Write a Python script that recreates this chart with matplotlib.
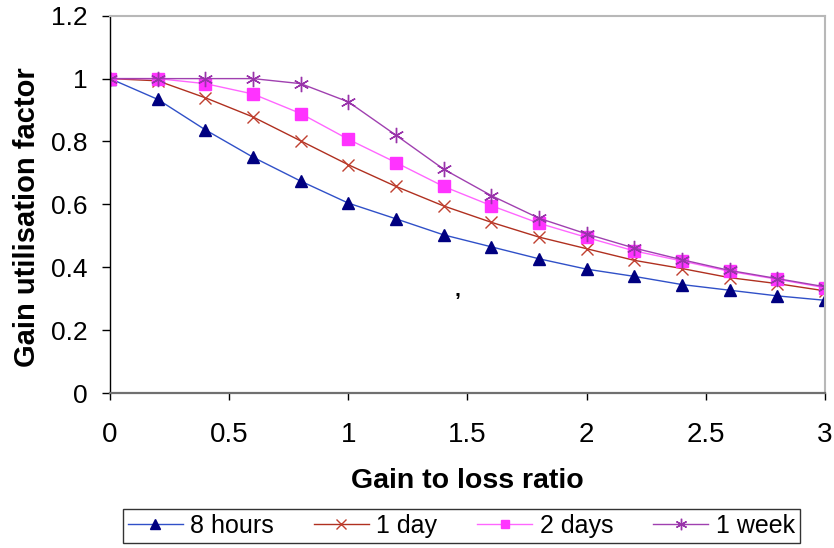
import matplotlib
matplotlib.use("Agg")
import matplotlib.pyplot as plt

plt.rcParams['font.family'] = ['Liberation Sans', 'DejaVu Sans']

# Gain to loss ratio
ratio = [0.0, 0.2, 0.4, 0.6, 0.8, 1.0, 1.2, 1.4, 1.6, 1.8, 2.0, 2.2, 2.4, 2.6, 2.8, 3.0]

# Gain utilisation factor for each time constant
util_8h = [1.0, 0.934, 0.837, 0.750, 0.674, 0.604, 0.554, 0.503, 0.465, 0.427,
           0.394, 0.371, 0.345, 0.327, 0.309, 0.295]
util_1d = [1.0, 0.993, 0.939, 0.878, 0.802, 0.726, 0.657, 0.595, 0.543, 0.496,
           0.459, 0.422, 0.396, 0.367, 0.348, 0.325]
util_2d = [1.0, 1.0, 0.984, 0.951, 0.889, 0.807, 0.733, 0.657, 0.596, 0.540,
           0.495, 0.452, 0.420, 0.387, 0.362, 0.335]
util_1w = [1.0, 1.0, 1.0, 1.0, 0.984, 0.926, 0.820, 0.712, 0.628, 0.556,
           0.506, 0.461, 0.424, 0.390, 0.364, 0.338]

series_labels = ["8 hours", "1 day", "2 days", "1 week"]

fig = plt.figure(figsize=(8.34, 5.48), dpi=100)
ax = fig.add_axes([0.132, 0.2828, 0.857, 0.6885])

ax.plot(ratio, util_8h, color='#3050c8', lw=1, marker='^', ms=9,
        mfc='#000080', mec='#000080', label=series_labels[0])
ax.plot(ratio, util_1d, color='#b03020', lw=1, marker='x', ms=9,
        mew=1, mec='#c04030', label=series_labels[1])
ax.plot(ratio, util_2d, color='#ff66ff', lw=1, marker='s', ms=8,
        mfc='#ff33ff', mec='#ff33ff', label=series_labels[2])
ax.plot(ratio, util_1w, color='#a040b0', lw=1, marker=(6, 2, 0), ms=11,
        mew=1, mec='#9933aa', label=series_labels[3])

# stray comma sitting inside the plot area
ax.text(1.458, 0.326, ',', fontsize=15, fontweight='bold', ha='center', va='center')

ax.set_xlim(0, 3)
ax.set_ylim(0, 1.2)
ax.set_xticks([0, 0.5, 1, 1.5, 2, 2.5, 3])
ax.set_xticklabels(['0', '0.5', '1', '1.5', '2', '2.5', '3'])
ax.set_yticks([0, 0.2, 0.4, 0.6, 0.8, 1.0, 1.2])
ax.set_yticklabels(['0', '0.2', '0.4', '0.6', '0.8', '1', '1.2'])
ax.tick_params(axis='both', direction='out', width=1)
ax.tick_params(axis='x', labelsize=20, length=5, pad=16)
ax.tick_params(axis='y', labelsize=19, length=6, pad=10)

ax.spines['left'].set_color('black')
ax.spines['left'].set_linewidth(1)
ax.spines['bottom'].set_color('#707070')
ax.spines['bottom'].set_linewidth(1.6)
ax.spines['top'].set_color('#b8b8b8')
ax.spines['top'].set_linewidth(1.5)
ax.spines['right'].set_color('#b8b8b8')
ax.spines['right'].set_linewidth(1.5)

ax.set_xlabel('Gain to loss ratio', fontsize=20.5, fontweight='bold', labelpad=14)
ax.set_ylabel('Gain utilisation factor', fontsize=21, fontweight='bold')
ax.yaxis.set_label_coords(-0.097, 0.465)

leg = fig.legend(loc='center', bbox_to_anchor=(0.553, 0.041), ncol=4,
                 fontsize=18, frameon=True, fancybox=False, edgecolor='black',
                 handlelength=2.2, handletextpad=0.3, columnspacing=1.6,
                 borderpad=0.2, markerscale=0.75)
leg.get_frame().set_linewidth(1)

fig.savefig('out.png', dpi=100)
